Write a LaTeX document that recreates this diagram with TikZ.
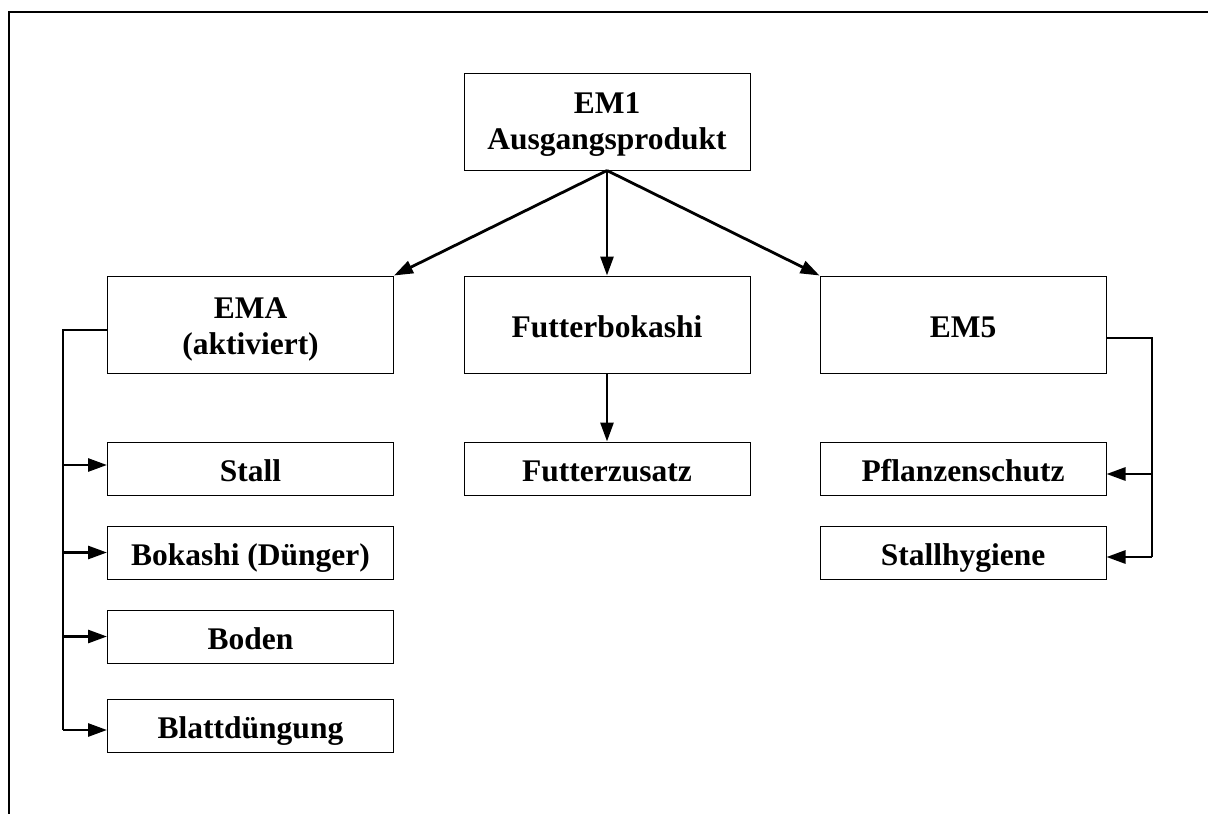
\documentclass[tikz,border=0pt]{standalone}
\usepackage{fontspec}
\setmainfont{Liberation Serif}
\usetikzlibrary{arrows.meta}
\begin{document}
\begin{tikzpicture}[x=1pt,y=-1pt,
  every node/.style={font=\fontsize{31.5}{36}\selectfont\bfseries},
  bigbox/.style={draw,line width=1pt,minimum width=286pt,minimum height=97pt,inner sep=0pt,align=center},
  bigsingle/.style={bigbox,text height=32pt,text depth=6.3pt},
  smallbox/.style={draw,line width=1pt,minimum width=286pt,minimum height=53pt,inner sep=0pt,text height=32pt,text depth=6.3pt},
  conn/.style={line width=2.8pt},
  arr/.style={line width=2.8pt,-{Triangle[length=19pt,width=13pt]}},
  frameline/.style={line width=1.2pt}
]
\useasboundingbox (0,0) rectangle (1208,814);
% frame
\coordinate (ftr) at (1208,12);
\coordinate (ftl) at (9,12);
\coordinate (fbl) at (9,814);
\draw[frameline] (ftr) -- (ftl) -- (fbl);

% nodes
\node[bigbox] (em1) at (607,121.5) {\rule{0pt}{27pt}EM1\\Ausgangsprodukt};
\node[bigbox] (ema) at (250.5,324.5) {\rule{0pt}{31pt}EMA\\(aktiviert)};
\node[bigsingle] (fb) at (607,324.5) {Futterbokashi};
\node[bigsingle] (em5) at (963,324.5) {EM5};

\node[smallbox] (stall) at (250.5,468.5) {Stall};
\node[smallbox] (bok) at (250.5,552.5) {Bokashi (Dünger)};
\node[smallbox] (boden) at (250.5,636.5) {Boden};
\node[smallbox] (blatt) at (250.5,725.5) {Blattdüngung};

\node[smallbox] (fz) at (607,468.5) {Futterzusatz};

\node[smallbox] (pf) at (963,468.5) {Pflanzenschutz};
\node[smallbox] (sh) at (963,552.5) {Stallhygiene};

\coordinate (lx) at (63,0);
\coordinate (rx) at (1152,0);

% top arrows
\draw[arr] (em1.south) -- (ema.north east);
\draw[arr] (em1.south) -- (fb.north);
\draw[arr] (em1.south) -- (em5.north west);
\draw[arr] (fb.south) -- (fz.north);

% left tree
\draw[conn] ([yshift=-5.5pt]ema.west) -- ([yshift=-5.5pt]ema.west -| lx) -- ([yshift=-4.5pt]blatt.west -| lx);
\draw[arr] ([yshift=3.5pt]stall.west -| lx) -- ([yshift=3.5pt]stall.west);
\draw[arr] (bok.west -| lx) -- (bok.west);
\draw[arr] (boden.west -| lx) -- (boden.west);
\draw[arr] ([yshift=-4.5pt]blatt.west -| lx) -- ([yshift=-4.5pt]blatt.west);

% right tree
\draw[conn] ([yshift=-13.5pt]em5.east) -- ([yshift=-13.5pt]em5.east -| rx) -- ([yshift=-4.5pt]sh.east -| rx);
\draw[arr] ([yshift=-5.5pt]pf.east -| rx) -- ([yshift=-5.5pt]pf.east);
\draw[arr] ([yshift=-4.5pt]sh.east -| rx) -- ([yshift=-4.5pt]sh.east);
\end{tikzpicture}
\end{document}
